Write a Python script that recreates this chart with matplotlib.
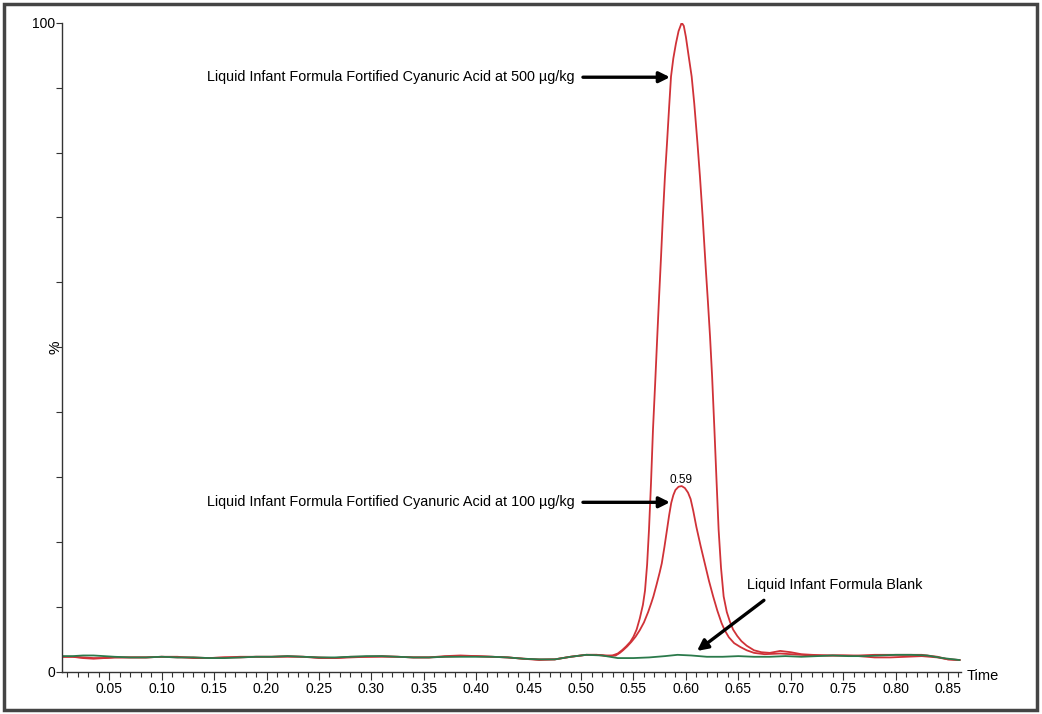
import matplotlib
matplotlib.use("Agg")
import matplotlib.pyplot as plt
from matplotlib.patches import Rectangle
from matplotlib.ticker import MultipleLocator

plt.rcParams['font.family'] = ['Liberation Sans', 'DejaVu Sans']

# 500 ug/kg trace (time, %)
t_500 = [0.005, 0.015, 0.025, 0.035, 0.045, 0.055, 0.07, 0.085, 0.10, 0.115, 0.13, 0.145,
         0.16, 0.175, 0.19, 0.205, 0.22, 0.235, 0.25, 0.265, 0.28, 0.295, 0.31, 0.325,
         0.34, 0.355, 0.37, 0.385, 0.40, 0.415, 0.43, 0.445, 0.46, 0.475, 0.49, 0.505,
         0.515, 0.525, 0.530, 0.535, 0.539, 0.543, 0.547, 0.550, 0.553, 0.556, 0.559,
         0.561, 0.563, 0.5648, 0.5667, 0.5686, 0.5707, 0.5727, 0.5745, 0.5763, 0.578,
         0.580, 0.582, 0.584, 0.5858, 0.588, 0.5905, 0.593, 0.596, 0.598, 0.600, 0.6025,
         0.6055, 0.608, 0.611, 0.6134, 0.616, 0.619, 0.621, 0.623, 0.625, 0.6272, 0.6292,
         0.6312, 0.6335, 0.636, 0.639, 0.642, 0.645, 0.649, 0.653, 0.658, 0.665, 0.672,
         0.68, 0.69, 0.70, 0.71, 0.72, 0.735, 0.75, 0.765, 0.78, 0.795, 0.81, 0.825,
         0.84, 0.85, 0.861]
y_500 = [2.3, 2.3, 2.1, 2.0, 2.1, 2.2, 2.2, 2.2, 2.3, 2.3, 2.1, 2.1,
         2.2, 2.3, 2.3, 2.3, 2.4, 2.3, 2.1, 2.1, 2.3, 2.3, 2.4, 2.3,
         2.2, 2.2, 2.4, 2.5, 2.4, 2.3, 2.2, 2.0, 1.8, 1.9, 2.3, 2.6,
         2.6, 2.5, 2.5, 2.8, 3.3, 3.9, 4.6, 5.4, 6.5, 8.2, 10.3,
         12.5, 16.5, 21.9, 29.0, 37.3, 44.5, 51.7, 58.0, 64.0, 70.0,
         76.3, 81.5, 87.0, 91.7, 94.5, 96.8, 98.7, 100.0, 99.5, 97.8, 95.0,
         91.7, 87.5, 81.5, 76.3, 70.0, 62.0, 57.0, 51.7, 45.5, 37.3, 29.5,
         21.9, 16.0, 11.6, 9.2, 7.7, 6.5, 5.5, 4.7, 4.0, 3.3, 3.0,
         2.9, 3.2, 3.0, 2.7, 2.6, 2.5, 2.5, 2.4, 2.2, 2.2, 2.3, 2.4,
         2.2, 1.9, 1.8]

# 100 ug/kg trace
t_100 = [0.005, 0.015, 0.025, 0.035, 0.045, 0.055, 0.07, 0.085, 0.10, 0.115, 0.13, 0.145,
         0.16, 0.175, 0.19, 0.205, 0.22, 0.235, 0.25, 0.265, 0.28, 0.295, 0.31, 0.325,
         0.34, 0.355, 0.37, 0.385, 0.40, 0.415, 0.43, 0.445, 0.46, 0.475, 0.49, 0.505,
         0.515, 0.525, 0.533, 0.537, 0.540, 0.544, 0.548, 0.552, 0.556, 0.560, 0.564,
         0.567, 0.569, 0.572, 0.575, 0.577, 0.5795, 0.582, 0.584, 0.586, 0.588, 0.590,
         0.593, 0.596, 0.599, 0.602, 0.6045, 0.607, 0.610, 0.614, 0.618, 0.622, 0.626,
         0.630, 0.634, 0.637, 0.641, 0.646, 0.652, 0.658, 0.665, 0.675, 0.69, 0.70,
         0.71, 0.72, 0.735, 0.75, 0.765, 0.78, 0.795, 0.81, 0.825, 0.84, 0.85, 0.861]
y_100 = [2.3, 2.3, 2.2, 2.1, 2.1, 2.2, 2.2, 2.2, 2.3, 2.2, 2.2, 2.1,
         2.2, 2.2, 2.3, 2.3, 2.3, 2.3, 2.2, 2.1, 2.2, 2.3, 2.3, 2.3,
         2.2, 2.2, 2.3, 2.4, 2.4, 2.3, 2.2, 2.0, 1.9, 1.9, 2.3, 2.6,
         2.6, 2.4, 2.5, 2.9, 3.3, 3.9, 4.6, 5.4, 6.4, 7.6, 9.2,
         10.6, 11.6, 13.4, 15.3, 16.7, 19.2, 21.9, 24.1, 26.0, 27.2, 28.0,
         28.5, 28.6, 28.3, 27.6, 26.6, 24.8, 22.3, 19.4, 16.7, 14.0, 11.6,
         9.4, 7.5, 6.4, 5.3, 4.4, 3.8, 3.3, 2.9, 2.7, 2.8, 2.7,
         2.6, 2.5, 2.5, 2.5, 2.5, 2.6, 2.6, 2.6, 2.6, 2.3, 1.9, 1.8]

# blank trace
t_blank = [0.005, 0.015, 0.025, 0.035, 0.045, 0.055, 0.07, 0.085, 0.10, 0.115, 0.13, 0.145,
           0.16, 0.175, 0.19, 0.205, 0.22, 0.235, 0.25, 0.265, 0.28, 0.295, 0.31, 0.325,
           0.34, 0.355, 0.37, 0.385, 0.40, 0.415, 0.43, 0.445, 0.46, 0.475, 0.49, 0.505,
           0.52, 0.535, 0.55, 0.565, 0.58, 0.592, 0.605, 0.62, 0.635, 0.65, 0.665, 0.68,
           0.695, 0.71, 0.725, 0.74, 0.755, 0.77, 0.785, 0.80, 0.815, 0.83, 0.845, 0.861]
y_blank = [2.4, 2.4, 2.5, 2.5, 2.4, 2.3, 2.2, 2.2, 2.3, 2.2, 2.2, 2.1,
           2.1, 2.2, 2.3, 2.3, 2.4, 2.3, 2.2, 2.2, 2.3, 2.4, 2.4, 2.3,
           2.2, 2.2, 2.3, 2.3, 2.3, 2.3, 2.2, 2.0, 1.9, 1.9, 2.3, 2.6,
           2.5, 2.1, 2.1, 2.2, 2.4, 2.6, 2.5, 2.3, 2.3, 2.4, 2.3, 2.3,
           2.4, 2.3, 2.4, 2.5, 2.4, 2.4, 2.5, 2.6, 2.6, 2.5, 2.1, 1.8]

x_ticks = [0.05, 0.10, 0.15, 0.20, 0.25, 0.30, 0.35, 0.40, 0.45, 0.50, 0.55, 0.60,
           0.65, 0.70, 0.75, 0.80, 0.85]

fig = plt.figure(figsize=(10.42, 7.14), dpi=100)
ax = fig.add_axes([62 / 1042, 1 - 671.7 / 714, (961 - 62) / 1042, (671.7 - 22.7) / 714])

red = '#d03238'
ax.plot(t_500, y_500, color=red, lw=1.3)
ax.plot(t_100, y_100, color=red, lw=1.3)
ax.plot(t_blank, y_blank, color='#2b7a4b', lw=1.3)

ax.set_xlim(0.0049, 0.8624)
ax.set_ylim(0, 100)
ax.set_xticks(x_ticks)
ax.set_xticklabels(['%.2f' % v for v in x_ticks])
ax.xaxis.set_minor_locator(MultipleLocator(0.01))
ax.set_yticks([0, 100])
ax.yaxis.set_minor_locator(MultipleLocator(10))

for s in ['top', 'right']:
    ax.spines[s].set_visible(False)
for s in ['left', 'bottom']:
    ax.spines[s].set_color('#333333')
    ax.spines[s].set_linewidth(1.0)

ax.tick_params(axis='x', which='major', length=6, width=0.8, color='#333333', labelsize=10, pad=1.5)
ax.tick_params(axis='x', which='minor', length=3.5, width=0.8, color='#333333')
ax.tick_params(axis='y', which='both', length=4, width=0.8, color='#333333', labelsize=10, pad=1)

fs = 10.4
arrow = dict(arrowstyle='-|>', lw=2.4, color='black', mutation_scale=16, shrinkA=0, shrinkB=0)
ax.annotate('', xy=(0.5848, 91.6), xytext=(0.5018, 91.6), arrowprops=arrow)
ax.text(0.494, 91.6, 'Liquid Infant Formula Fortified Cyanuric Acid at 500 µg/kg',
        ha='right', va='center', fontsize=fs)
ax.annotate('', xy=(0.5848, 26.1), xytext=(0.5018, 26.1), arrowprops=arrow)
ax.text(0.494, 26.1, 'Liquid Infant Formula Fortified Cyanuric Acid at 100 µg/kg',
        ha='right', va='center', fontsize=fs)
ax.annotate('', xy=(0.6106, 3.2), xytext=(0.6744, 11.0), arrowprops=arrow)
ax.text(0.658, 13.3, 'Liquid Infant Formula Blank', ha='left', va='center', fontsize=fs)
ax.text(0.5953, 29.5, '0.59', ha='center', va='center', fontsize=8.5)

fig.text(55 / 1042, 1 - 347 / 714, '%', rotation=90, ha='center', va='center', fontsize=11)
fig.text(967 / 1042, 1 - 676 / 714, 'Time', ha='left', va='center', fontsize=10.5)

fig.patches.append(Rectangle((4 / 1042, 4 / 714), 1033 / 1042, 706 / 714,
                             transform=fig.transFigure, fill=False,
                             edgecolor='#444444', lw=2.5))

fig.savefig('out.png', dpi=100)
